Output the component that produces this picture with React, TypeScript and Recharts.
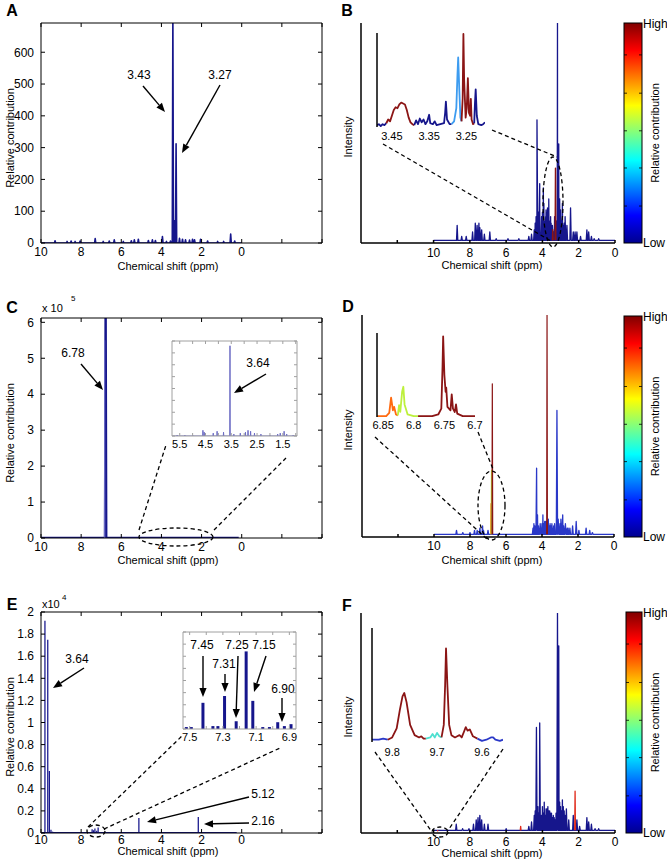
import React from "react";
import { ComposedChart, Line, Bar, XAxis, YAxis } from "recharts";

const NAVY = "#16168c";
const BLUE = "#2a38c8";
const SKY = "#3d9cf0";
const CYAN = "#4fe0d0";
const DARKRED = "#8b1515";
const RED = "#e02a1a";
const ORANGE = "#ff6a10";
const LIME = "#bdf03c";
const LILAC = "#6b6bc4";
const GRAY = "#a0a0a0";
const FONT = "'Liberation Sans', Arial, Helvetica, sans-serif";

// ---------- A: relative contribution, ppm vs contribution
const aShift = [9.3, 8.7, 8.5, 8.3, 8.05, 7.3, 6.9, 6.6, 6.35, 5.9, 5.5, 5.35, 5.15, 4.65, 4.45, 4.3, 3.95, 3.75, 3.55, 3.43, 3.35, 3.27, 3.1, 2.95, 2.8, 2.6, 2.45, 2.35, 2.05, 1.7, 1.2, 0.9, 0.55, 0.35];
const aContrib = [7, 5, 6, 5, 6, 14, 5, 6, 10, 5, 7, 10, 12, 8, 10, 8, 20, 5, 6, 720, 70, 312, 15, 12, 10, 9, 12, 10, 12, 6, 5, 5, 28, 6];
const aYTicks = [0, 100, 200, 300, 400, 500, 600];

// ---------- C: relative contribution (x 10^5)
const cShift = [6.78];
const cContrib = [650000];
const cShoulderShift = [6.83];
const cShoulderContrib = [550000];
const cYTicks = [0, 100000, 200000, 300000, 400000, 500000, 600000];
const cInsetShift = [5.6, 5.3, 5.0, 4.6, 4.55, 4.2, 4.05, 3.8, 3.55, 3.4, 3.15, 2.95, 2.85, 2.75, 2.6, 2.35, 2.0, 1.7, 1.6, 1.45, 1.35, 1.1];
const cInsetContrib = [1, 1, 1, 6, 4, 3, 5, 4, 95, 2, 3, 4, 6, 5, 3, 2, 1, 2, 3, 5, 2, 1];
const cInsetTicks = [1, 1.5, 2, 2.5, 3, 3.5, 4, 4.5, 5, 5.5];

// ---------- E: relative contribution (x 10^4)
const eShift = [9.8, 9.66, 9.58, 9.5, 9.42, 7.45, 7.38, 7.31, 7.22, 7.15, 5.12, 2.16];
const eContrib = [19200, 17500, 5600, 300, 120, 350, 250, 400, 200, 500, 1350, 1450];
const eYTicks = [0, 2000, 4000, 6000, 8000, 10000, 12000, 14000, 16000, 18000, 20000];
const eInsetShift = [7.52, 7.49, 7.42, 7.36, 7.33, 7.29, 7.22, 7.16, 7.12, 7.06, 7.02, 6.97, 6.93, 6.89];
const eInsetContrib = [2, 2, 27, 3, 3, 34, 8, 80, 29, 2, 2, 7, 3, 5];
const eInsetTicks = [6.9, 7.0, 7.1, 7.2, 7.3, 7.4, 7.5];

// ---------- B: spectrum coloured by contribution
const bShift = [9.9, 8.7, 8.45, 8.2, 7.85, 7.7, 7.6, 7.5, 7.45, 7.35, 7.2, 6.9, 6.55, 5.9, 5.3, 4.75, 4.6, 4.45, 4.3, 4.22, 4.15, 4.05, 3.95, 3.9, 3.85, 3.8, 3.75, 3.7, 3.65, 3.6, 3.55, 3.5, 3.38, 3.22, 3.17, 3.1, 3.05, 3.0, 2.9, 2.8, 2.75, 2.65, 2.45, 2.3, 2.2, 2.1, 1.9, 1.55, 1.45, 1.3, 1.15, 0.9];
const bIntensity = [1, 8, 3, 3, 5, 9, 8, 9, 7, 6, 4, 5, 2, 2, 2, 3, 4, 6, 56, 14, 27, 12, 25, 8, 10, 15, 14, 9, 20, 8, 12, 7, 5, 10, 100, 45, 20, 15, 18, 9, 12, 8, 16, 5, 5, 5, 3, 6, 5, 3, 2, 2];
const bClusterShift = [4.4, 4.35, 4.27, 4.18, 4.0, 3.92, 3.82, 3.72, 3.62, 3.52, 3.45, 3.33, 3.25, 3.13, 3.07, 2.95, 2.85];
const bClusterIntensity = [9, 12, 18, 10, 14, 18, 12, 16, 10, 9, 8, 12, 9, 30, 14, 10, 8];
const bRedShift = [3.43, 3.28];
const bRedIntensity = [6, 34];
const bInsetBlue1 = [[3.49, 2], [3.485, 3], [3.48, 1], [3.475, 3], [3.47, 2], [3.465, 4]];
const bInsetRed1 = [[3.465, 4], [3.46, 8], [3.455, 6], [3.45, 12], [3.445, 18], [3.44, 21], [3.435, 20], [3.43, 24], [3.425, 26], [3.42, 25], [3.415, 24], [3.41, 18], [3.405, 10], [3.4, 5], [3.395, 3], [3.39, 2]];
const bInsetBlue2 = [[3.39, 2], [3.385, 7], [3.38, 3], [3.375, 9], [3.37, 5], [3.365, 8], [3.36, 3], [3.355, 6], [3.35, 13], [3.347, 4], [3.34, 3], [3.335, 6], [3.33, 2], [3.32, 3], [3.31, 4], [3.307, 15], [3.305, 27], [3.302, 8], [3.295, 3], [3.29, 3]];
const bInsetSky = [[3.29, 3], [3.283, 6], [3.277, 20], [3.274, 55], [3.272, 74], [3.269, 40], [3.266, 10], [3.263, 6]];
const bInsetRed2 = [[3.263, 6], [3.26, 30], [3.258, 99], [3.256, 50], [3.252, 10], [3.249, 20], [3.246, 52], [3.243, 15], [3.24, 12], [3.238, 30], [3.236, 8], [3.232, 3], [3.229, 4]];
const bInsetBlue3 = [[3.229, 4], [3.227, 25], [3.225, 40], [3.222, 12], [3.218, 3], [3.21, 2], [3.205, 3], [3.2, 5]];

// ---------- D
const dShift = [9.9, 8.75, 8.4, 8.0, 7.75, 7.6, 7.45, 7.3, 7.25, 7.0, 6.5, 5.5, 4.5, 4.45, 4.3, 4.25, 4.1, 3.95, 3.85, 3.8, 3.65, 3.55, 3.45, 3.35, 3.17, 3.1, 2.95, 2.85, 2.7, 2.55, 2.45, 2.3, 2.1, 1.95, 1.55, 1.35, 1.2];
const dIntensity = [1, 3, 2, 2, 3, 3, 4, 5, 3, 3, 1, 1, 4, 6, 31, 10, 6, 10, 7, 7, 8, 6, 6, 5, 57, 8, 8, 10, 6, 4, 4, 5, 7, 3, 4, 3, 2];
const dClusterShift = [4.4, 4.2, 4.0, 3.9, 3.75, 3.6, 3.5, 3.3, 3.0, 2.8, 2.6];
const dClusterIntensity = [5, 5, 6, 6, 7, 5, 5, 6, 6, 5, 4];
const dRedShift = [6.76, 3.72];
const dRedIntensity = [69, 100];
const dLimeShift = [6.8];
const dLimeIntensity = [30];
const dOrangeShift = [6.83];
const dOrangeIntensity = [15];
const dInsetOrange = [[6.86, 1], [6.845, 1], [6.84, 5], [6.837, 23], [6.834, 8], [6.832, 12], [6.829, 3], [6.826, 2]];
const dInsetLime = [[6.826, 2], [6.824, 14], [6.822, 6], [6.819, 30], [6.817, 36], [6.815, 15], [6.81, 3], [6.8, 1], [6.793, 1]];
const dInsetRed = [[6.793, 1], [6.77, 1], [6.76, 3], [6.755, 10], [6.753, 60], [6.752, 96], [6.75, 50], [6.748, 30], [6.747, 35], [6.745, 12], [6.74, 8], [6.738, 27], [6.736, 10], [6.733, 6], [6.731, 15], [6.729, 4], [6.72, 1], [6.7, 1]];

// ---------- F
const fShift = [8.75, 8.4, 8.05, 7.8, 7.65, 7.55, 7.45, 7.35, 7.2, 7.0, 6.5, 6.0, 5.4, 4.75, 4.6, 4.45, 4.33, 4.15, 4.05, 3.95, 3.85, 3.75, 3.65, 3.55, 3.45, 3.3, 3.17, 3.1, 3.0, 2.9, 2.8, 2.68, 2.55, 2.3, 2.1, 1.95, 1.55, 1.45, 1.3, 1.1, 0.9];
const fIntensity = [4, 2, 2, 4, 6, 7, 8, 6, 4, 4, 1, 2, 1, 3, 5, 8, 48, 50, 8, 9, 8, 11, 10, 9, 7, 6, 100, 85, 12, 15, 10, 11, 6, 8, 6, 3, 7, 5, 4, 2, 2];
const fClusterShift = [4.4, 4.25, 4.2, 4.0, 3.9, 3.8, 3.7, 3.6, 3.5, 3.4, 3.35, 3.25, 3.05, 2.95, 2.85, 2.75];
const fClusterIntensity = [10, 12, 9, 12, 14, 11, 12, 10, 9, 8, 7, 9, 14, 10, 12, 8];
const fRedShift = [9.77, 5.2, 2.2];
const fRedIntensity = [1, 3, 19];
const fInsetBlue1 = [[9.845, 2], [9.83, 2], [9.82, 3], [9.81, 2]];
const fInsetRed1 = [[9.81, 2], [9.8, 4], [9.79, 12], [9.783, 28], [9.777, 40], [9.773, 43], [9.768, 35], [9.76, 15], [9.75, 6], [9.74, 4], [9.735, 5], [9.73, 3], [9.725, 3]];
const fInsetCyan = [[9.725, 3], [9.715, 4], [9.71, 7], [9.705, 4], [9.7, 8], [9.695, 5], [9.69, 4]];
const fInsetRed2 = [[9.69, 4], [9.685, 15], [9.682, 50], [9.68, 82], [9.677, 50], [9.673, 15], [9.668, 6], [9.66, 4], [9.655, 5], [9.65, 6], [9.645, 4], [9.64, 9], [9.636, 13], [9.632, 10], [9.627, 11], [9.62, 5], [9.61, 3]];
const fInsetBlue2 = [[9.61, 3], [9.6, 1], [9.59, 2], [9.58, 4], [9.575, 4], [9.57, 2], [9.56, 1], [9.553, 2]];

// spectra sit slightly above zero intensity (noise floor)
const specFloor = 1.2;
const specTicks = [0, 2, 4, 6, 8, 10, 12];
const boxTicks = [-4, -2, 0, 2, 4, 6, 8, 10];

type Pt = { x: number; y: number | null };
type Rect = { x: number; y: number; w: number; h: number };

// baseline from `from` to `to` with a narrow peak at every shift
function spectrum(shift: number[], height: number[], from: number, to: number, w = 0.02, base = 0): Pt[] {
  const pts: Pt[] = [{ x: from, y: base }, { x: to, y: base }];
  shift.forEach((s, i) => pts.push({ x: s + w, y: base }, { x: s, y: Math.max(height[i], base) }, { x: s - w, y: base }));
  return pts.sort((p, q) => q.x - p.x);
}

// isolated peaks (gaps so the colour does not run along the baseline)
function stems(shift: number[], height: number[], w = 0.02, base = 0): Pt[] {
  const pts: Pt[] = [];
  shift.forEach((s, i) =>
    pts.push({ x: s + w, y: base }, { x: s, y: height[i] }, { x: s - w, y: base }, { x: s - 2 * w, y: null })
  );
  return pts.sort((p, q) => q.x - p.x);
}

const curve = (pairs: number[][]): Pt[] => pairs.map(([x, y]) => ({ x, y }));
const rows = (shift: number[], v: number[]) => shift.map((x, i) => ({ x, v: v[i] }));

const blank = () => "";
const black = { fill: "#000", fontSize: 12 };

function series(data: Pt[], color: string, width = 1.3) {
  return (
    <Line data={data} dataKey="y" stroke={color} strokeWidth={width} dot={false} isAnimationActive={false} connectNulls={false} strokeLinejoin="round" />
  );
}

// boxed MATLAB style axes (A, C, E)
function BoxPanel(props: {
  plot: Rect; yDomain: number[]; yTicks: number[]; yFmt: (v: number) => string; xMargin: number;
  data?: any[]; children: React.ReactNode;
}) {
  const { plot, yDomain, yTicks, yFmt, xMargin, data, children } = props;
  const YW = 44, MT = 8, MR = 8, XH = 30;
  return (
    <div style={{ position: "absolute", left: plot.x - YW, top: plot.y - MT }}>
      <ComposedChart width={YW + plot.w + MR} height={MT + plot.h + XH} margin={{ top: MT, right: MR, bottom: 0, left: 0 }} data={data}>
        <XAxis type="number" dataKey="x" domain={[-4, 10]} reversed allowDataOverflow ticks={boxTicks} interval={0}
          tickFormatter={(v: number) => (v < 0 ? "" : String(v))} height={XH} tickSize={-4} tickMargin={xMargin}
          stroke="#000" tick={black} />
        <XAxis xAxisId="top" orientation="top" mirror type="number" dataKey="x" domain={[-4, 10]} reversed allowDataOverflow
          ticks={boxTicks} interval={0} height={1} tickSize={4} tickFormatter={blank} stroke="#000" />
        <YAxis type="number" domain={yDomain} allowDataOverflow ticks={yTicks} interval={0} tickFormatter={yFmt}
          width={YW} tickSize={-4} tickMargin={11} stroke="#000" tick={black} />
        <YAxis yAxisId="right" orientation="right" mirror type="number" domain={yDomain} allowDataOverflow
          ticks={yTicks} interval={0} width={1} tickSize={4} tickFormatter={blank} stroke="#000" />
        {children}
      </ComposedChart>
    </div>
  );
}

// open spectrum axes (B, D, F)
function SpecPanel(props: { plot: Rect; xMargin: number; children: React.ReactNode }) {
  const { plot, xMargin, children } = props;
  const YW = 20, MT = 4, MR = 8, XH = 30;
  return (
    <div style={{ position: "absolute", left: plot.x - YW, top: plot.y - MT }}>
      <ComposedChart width={YW + plot.w + MR} height={MT + plot.h + XH} margin={{ top: MT, right: MR, bottom: 0, left: 0 }}>
        <XAxis type="number" dataKey="x" domain={[0, 14]} reversed allowDataOverflow ticks={specTicks} interval={0}
          tickFormatter={(v: number) => (v > 10 ? "" : String(v))} height={XH} tickSize={-3} tickMargin={xMargin}
          stroke="#000" strokeWidth={1.5} tick={black} />
        <YAxis type="number" domain={[0, 100]} allowDataOverflow tick={false} tickLine={false} width={YW}
          stroke="#000" strokeWidth={1.5} />
        {children}
      </ComposedChart>
    </div>
  );
}

function OpenInset(props: {
  plot: Rect; domain: number[]; ticks: number[]; xMargin: number; children: React.ReactNode;
}) {
  const { plot, domain, ticks, xMargin, children } = props;
  return (
    <div style={{ position: "absolute", left: plot.x - 1, top: plot.y - 2 }}>
      <ComposedChart width={plot.w + 3} height={plot.h + 22} margin={{ top: 2, right: 2, bottom: 0, left: 0 }}>
        <XAxis type="number" dataKey="x" domain={domain} reversed allowDataOverflow ticks={ticks} interval={0}
          tickFormatter={(v: number) => String(v)} height={20} axisLine={false} tickLine={false} tickSize={0}
          tickMargin={xMargin} tick={{ fill: "#000", fontSize: 11 }} />
        <YAxis type="number" domain={[0, 100]} allowDataOverflow tick={false} tickLine={false} width={1}
          stroke="#000" strokeWidth={1.5} />
        {children}
      </ComposedChart>
    </div>
  );
}

function FrameInset(props: {
  plot: Rect; domain: number[]; ticks: number[]; labelEvery: (v: number) => boolean; xMargin: number;
  data?: any[]; children: React.ReactNode;
}) {
  const { plot, domain, ticks, labelEvery, xMargin, data, children } = props;
  const yt = [0, 12.5, 25, 37.5, 50, 62.5, 75, 87.5, 100];
  return (
    <div style={{ position: "absolute", left: plot.x - 1, top: plot.y - 2 }}>
      <ComposedChart width={plot.w + 4} height={plot.h + 22} margin={{ top: 2, right: 2, bottom: 0, left: 0 }} data={data}>
        <XAxis type="number" dataKey="x" domain={domain} reversed allowDataOverflow ticks={ticks} interval={0}
          tickFormatter={(v: number) => (labelEvery(v) ? String(v) : "")} height={20} tickSize={-3}
          tickMargin={xMargin} stroke={GRAY} tick={{ fill: "#000", fontSize: 11 }} />
        <XAxis xAxisId="top" orientation="top" mirror type="number" dataKey="x" domain={domain} reversed allowDataOverflow
          ticks={ticks} interval={0} height={1} tickSize={3} tickFormatter={blank} stroke={GRAY} />
        <YAxis type="number" domain={[0, 100]} allowDataOverflow ticks={yt} interval={0} width={1} tickSize={-3}
          tickFormatter={blank} stroke={GRAY} />
        <YAxis yAxisId="right" orientation="right" mirror type="number" domain={[0, 100]} allowDataOverflow
          ticks={yt} interval={0} width={1} tickSize={3} tickFormatter={blank} stroke={GRAY} />
        {children}
      </ComposedChart>
    </div>
  );
}

// ---------- overlay helpers (annotations)
function Arrow({ x1, y1, x2, y2 }: { x1: number; y1: number; x2: number; y2: number }) {
  const a = Math.atan2(y2 - y1, x2 - x1);
  const L = 9, W = 3.6;
  const bx = x2 - L * Math.cos(a), by = y2 - L * Math.sin(a);
  const px = -Math.sin(a) * W, py = Math.cos(a) * W;
  return (
    <g>
      <line x1={x1} y1={y1} x2={bx} y2={by} stroke="#000" strokeWidth={1.4} />
      <polygon points={`${x2},${y2} ${bx + px},${by + py} ${bx - px},${by - py}`} fill="#000" />
    </g>
  );
}

function Txt({ x, y, children, size = 12, anchor = "middle", bold = false, rotate = false }: any) {
  return (
    <text x={rotate ? 0 : x} y={rotate ? 0 : y} transform={rotate ? `translate(${x},${y}) rotate(-90)` : undefined}
      textAnchor={anchor} dominantBaseline="central" fontSize={size} fontWeight={bold ? "bold" : "normal"} fill="#000">
      {children}
    </text>
  );
}

const dash = { stroke: "#000", strokeWidth: 1.3, strokeDasharray: "4 3", fill: "none" };

function ColorBar({ x, y, w, h, title }: { x: number; y: number; w: number; h: number; title: string }) {
  const marks = [0.168, 0.341, 0.51, 0.681, 0.855];
  return (
    <g>
      <rect x={x} y={y} width={w} height={h} fill="url(#jet)" stroke="#000" strokeWidth={1} />
      {marks.map((m) => (
        <g key={m}>
          <line x1={x} x2={x + 3} y1={y + h - m * h} y2={y + h - m * h} stroke="#000" strokeWidth={0.8} />
          <line x1={x + w - 3} x2={x + w} y1={y + h - m * h} y2={y + h - m * h} stroke="#000" strokeWidth={0.8} />
        </g>
      ))}
      <Txt x={x + w + 1} y={y + 1} anchor="start" size={12}>High</Txt>
      <Txt x={x + w + 1} y={y + h} anchor="start" size={12}>Low</Txt>
      <Txt x={x + w + 13} y={y + h / 2} rotate size={11}>{title}</Txt>
    </g>
  );
}

function Overlay() {
  return (
    <svg width={667} height={862} style={{ position: "absolute", left: 0, top: 0, pointerEvents: "none" }}>
      <defs>
        <linearGradient id="jet" x1="0" y1="1" x2="0" y2="0">
          <stop offset="0" stopColor="#00008f" />
          <stop offset="0.125" stopColor="#0000ff" />
          <stop offset="0.375" stopColor="#00ffff" />
          <stop offset="0.625" stopColor="#ffff00" />
          <stop offset="0.875" stopColor="#ff0000" />
          <stop offset="1" stopColor="#800000" />
        </linearGradient>
      </defs>

      {/* panel letters */}
      <Txt x={12} y={10} size={16} bold>A</Txt>
      <Txt x={347} y={10} size={16} bold>B</Txt>
      <Txt x={12} y={307} size={16} bold>C</Txt>
      <Txt x={348} y={306} size={16} bold>D</Txt>
      <Txt x={12} y={604} size={16} bold>E</Txt>
      <Txt x={347} y={605} size={16} bold>F</Txt>

      {/* axis titles */}
      <Txt x={10} y={138} rotate size={11}>Relative contribution</Txt>
      <Txt x={10} y={433} rotate size={11}>Relative contribution</Txt>
      <Txt x={10} y={727} rotate size={11}>Relative contribution</Txt>
      <Txt x={168} y={266} size={11}>Chemical shift (ppm)</Txt>
      <Txt x={168} y={560} size={11}>Chemical shift (ppm)</Txt>
      <Txt x={168} y={851} size={11}>Chemical shift (ppm)</Txt>
      <Txt x={348} y={137} rotate size={11}>Intensity</Txt>
      <Txt x={348} y={430} rotate size={11}>Intensity</Txt>
      <Txt x={348} y={717} rotate size={11}>Intensity</Txt>
      <Txt x={492} y={265} size={11}>Chemical shift (ppm)</Txt>
      <Txt x={492} y={560} size={11}>Chemical shift (ppm)</Txt>
      <Txt x={492} y={853} size={11}>Chemical shift (ppm)</Txt>

      {/* exponents */}
      <Txt x={42} y={308} anchor="start" size={11}>x 10</Txt>
      <Txt x={71} y={298} anchor="start" size={8}>5</Txt>
      <Txt x={42} y={604} anchor="start" size={11}>x10</Txt>
      <Txt x={62} y={597} anchor="start" size={8}>4</Txt>

      {/* A */}
      <Txt x={139} y={75}>3.43</Txt>
      <Arrow x1={143} y1={86} x2={165} y2={112} />
      <Txt x={220} y={75}>3.27</Txt>
      <Arrow x1={220} y1={85} x2={182} y2={153} />

      {/* C */}
      <Txt x={73} y={353}>6.78</Txt>
      <Arrow x1={81} y1={364} x2={103} y2={390} />
      <Txt x={258} y={363}>3.64</Txt>
      <Arrow x1={266} y1={374} x2={234} y2={393} />
      <ellipse cx={176} cy={537} rx={37} ry={9} {...dash} />
      <line x1={139} y1={530} x2={166} y2={445} {...dash} />
      <line x1={214} y1={530} x2={286} y2={458} {...dash} />

      {/* E */}
      <Txt x={77} y={659}>3.64</Txt>
      <Arrow x1={84} y1={668} x2={53} y2={688} />
      <Txt x={263} y={794}>5.12</Txt>
      <Arrow x1={249} y1={797} x2={147} y2={822} />
      <Txt x={263} y={821}>2.16</Txt>
      <Arrow x1={249} y1={823} x2={204} y2={824} />
      <ellipse cx={96} cy={831} rx={9} ry={6} {...dash} />
      <line x1={88} y1={827} x2={183} y2={735} {...dash} />
      <line x1={104} y1={829} x2={280} y2={748} {...dash} />
      <Txt x={202} y={645}>7.45</Txt>
      <Arrow x1={203} y1={656} x2={203} y2={697} />
      <Txt x={224} y={664}>7.31</Txt>
      <Arrow x1={225} y1={674} x2={225} y2={692} />
      <Txt x={237} y={645}>7.25</Txt>
      <Arrow x1={238} y1={656} x2={236} y2={718} />
      <Txt x={264} y={645}>7.15</Txt>
      <Arrow x1={266} y1={656} x2={254} y2={692} />
      <Txt x={283} y={689}>6.90</Txt>
      <Arrow x1={282} y1={698} x2={282} y2={722} />

      {/* B */}
      <ellipse cx={553} cy={202} rx={10} ry={45} {...dash} />
      <line x1={492} y1={130} x2={557} y2={157} {...dash} />
      <line x1={383} y1={144} x2={551} y2={241} {...dash} />

      {/* D */}
      <ellipse cx={491.5} cy={505.5} rx={13.5} ry={34.5} {...dash} />
      <line x1={375} y1={437} x2={487} y2={539} {...dash} />
      <line x1={478} y1={432} x2={493} y2={469} {...dash} />

      {/* F */}
      <ellipse cx={440} cy={832} rx={8} ry={5} {...dash} />
      <line x1={375} y1={752} x2={432} y2={832} {...dash} />
      <line x1={503} y1={749} x2={447} y2={832} {...dash} />

      <ColorBar x={624} y={23} w={18} h={220} title="Relative contribution" />
      <ColorBar x={624} y={316} w={18} h={221} title="Relative contribution" />
      <ColorBar x={626} y={612} w={16} h={221} title="Relative contribution" />
    </svg>
  );
}

export default function App() {
  return (
    <div style={{ position: "absolute", left: 0, top: 0, width: 667, height: 862, background: "#fff", fontFamily: FONT }}>
      <style>{".recharts-surface { overflow: visible; }"}</style>

      {/* A */}
      <BoxPanel plot={{ x: 41, y: 23, w: 281, h: 220 }} yDomain={[0, 692]} yTicks={aYTicks} yFmt={(v) => String(v)} xMargin={8}>
        {series(spectrum(aShift, aContrib, 10, 0, 0.03), NAVY, 1.6)}
      </BoxPanel>

      {/* C */}
      <BoxPanel plot={{ x: 41, y: 318, w: 281, h: 220 }} yDomain={[0, 612000]} yTicks={cYTicks} yFmt={(v) => String(v / 1e5)} xMargin={8}>
        {series(spectrum(cShift, cContrib, 10, 0.15, 0.03), NAVY, 2.4)}
        {series(stems(cShoulderShift, cShoulderContrib, 0.01), LILAC, 1)}
      </BoxPanel>
      <FrameInset plot={{ x: 172, y: 341, w: 124, h: 95 }} domain={[0.95, 5.8]} ticks={cInsetTicks}
        labelEvery={(v) => Math.abs((v * 10) % 10 - 5) < 0.01} xMargin={7}>
        {series(spectrum(cInsetShift, cInsetContrib, 5.8, 0.95, 0.01), LILAC, 1)}
      </FrameInset>

      {/* E */}
      <BoxPanel plot={{ x: 41, y: 612, w: 281, h: 221 }} yDomain={[0, 20000]} yTicks={eYTicks}
        yFmt={(v) => String(Math.round(v / 1e3) / 10)} xMargin={6} data={rows(eShift, eContrib)}>
        <Bar dataKey="v" fill={NAVY} barSize={3} isAnimationActive={false} />
        {series(spectrum([], [], 10, 0.25), NAVY, 2)}
      </BoxPanel>
      <div style={{ position: "absolute", left: 183, top: 632, width: 112, height: 97, background: "#fff" }} />
      <FrameInset plot={{ x: 183, y: 632, w: 112, h: 97 }} domain={[6.86, 7.54]} ticks={eInsetTicks}
        labelEvery={(v) => Math.round(v * 10) % 2 === 1} xMargin={7} data={rows(eInsetShift, eInsetContrib)}>
        <Bar dataKey="v" fill={NAVY} barSize={3} isAnimationActive={false} />
      </FrameInset>

      {/* B */}
      <SpecPanel plot={{ x: 361, y: 23, w: 254, h: 220 }} xMargin={8}>
        {series(spectrum(bShift.concat(bClusterShift), bIntensity.concat(bClusterIntensity), 10, 0, 0.035, specFloor), NAVY, 1.3)}
        {series(stems(bRedShift, bRedIntensity, 0.02, specFloor), DARKRED, 1.4)}
      </SpecPanel>
      <OpenInset plot={{ x: 377, y: 33, w: 108, h: 94 }} domain={[3.2, 3.49]} ticks={[3.45, 3.35, 3.25]} xMargin={5}>
        {series(curve(bInsetBlue1), NAVY, 1.8)}
        {series(curve(bInsetRed1), DARKRED, 1.8)}
        {series(curve(bInsetBlue2), NAVY, 1.8)}
        {series(curve(bInsetSky), SKY, 1.8)}
        {series(curve(bInsetRed2), DARKRED, 1.8)}
        {series(curve(bInsetBlue3), NAVY, 1.8)}
      </OpenInset>

      {/* D */}
      <SpecPanel plot={{ x: 362, y: 315, w: 252, h: 222 }} xMargin={7}>
        {series(spectrum(dShift.concat(dClusterShift), dIntensity.concat(dClusterIntensity), 10, 0, 0.035, specFloor), BLUE, 1.3)}
        {series(stems(dOrangeShift, dOrangeIntensity, 0.02, specFloor), ORANGE, 1.4)}
        {series(stems(dLimeShift, dLimeIntensity, 0.02, specFloor), LIME, 1.4)}
        {series(stems(dRedShift, dRedIntensity, 0.02, specFloor), DARKRED, 1.2)}
      </SpecPanel>
      <OpenInset plot={{ x: 377, y: 333, w: 98, h: 84 }} domain={[6.7, 6.86]} ticks={[6.85, 6.8, 6.75, 6.7]} xMargin={4}>
        {series(curve(dInsetOrange), ORANGE, 1.8)}
        {series(curve(dInsetLime), LIME, 1.8)}
        {series(curve(dInsetRed), DARKRED, 1.8)}
      </OpenInset>

      {/* F */}
      <SpecPanel plot={{ x: 361, y: 613, w: 254, h: 220 }} xMargin={7}>
        {series(spectrum(fShift.concat(fClusterShift), fIntensity.concat(fClusterIntensity), 10, 0, 0.035, specFloor), NAVY, 1.3)}
        {series(stems(fRedShift, fRedIntensity, 0.02, specFloor), RED, 1.3)}
      </SpecPanel>
      <OpenInset plot={{ x: 372, y: 628, w: 131, h: 114 }} domain={[9.553, 9.845]} ticks={[9.8, 9.7, 9.6]} xMargin={6}>
        {series(curve(fInsetBlue1), BLUE, 1.8)}
        {series(curve(fInsetRed1), DARKRED, 1.8)}
        {series(curve(fInsetCyan), CYAN, 1.8)}
        {series(curve(fInsetRed2), DARKRED, 1.8)}
        {series(curve(fInsetBlue2), BLUE, 1.8)}
      </OpenInset>

      <Overlay />
    </div>
  );
}
